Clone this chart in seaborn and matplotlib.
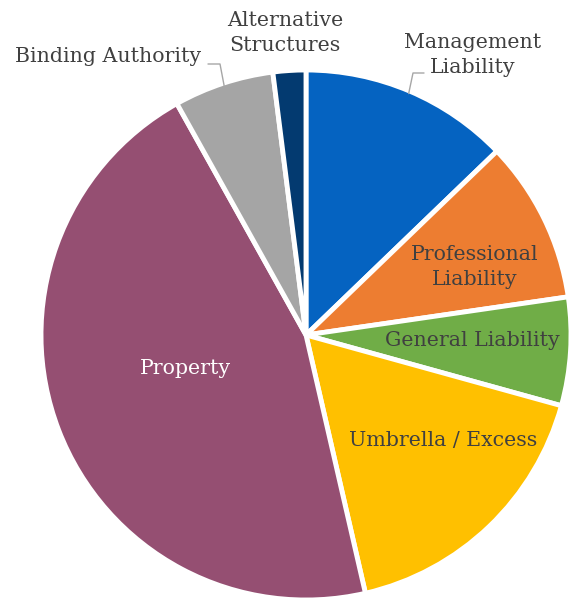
import numpy as np
import matplotlib
matplotlib.use("Agg")
import matplotlib.pyplot as plt
import seaborn as sns

# Share of premium by line of business
segments = ["Management Liability", "Professional Liability", "General Liability",
            "Umbrella / Excess", "Property", "Binding Authority", "Alternative Structures"]
shares = [12.8, 9.9, 6.6, 17.1, 45.5, 6.1, 2.0]
label_text = ["Management\nLiability", "Professional\nLiability", "General Liability",
              "Umbrella / Excess", "Property", "Binding Authority", "Alternative\nStructures"]
colors = ["#0563C1", "#ED7D31", "#70AD47", "#FFC000", "#954F72", "#A5A5A5", "#033A70"]

sns.set_theme(style="white")
plt.rcParams["font.family"] = ["DejaVu Serif"]

fig = plt.figure(figsize=(5.70, 5.98), dpi=100)
R = 265
cx, cy = 306, 335
W, H = 570, 598
ax = fig.add_axes([(cx - R) / W, (H - cy - R) / H, 2 * R / W, 2 * R / H])

wedges, _ = ax.pie(shares, colors=colors, startangle=90, counterclock=False,
                   wedgeprops=dict(edgecolor="white", linewidth=3.5))
ax.set_xlim(-1, 1)
ax.set_ylim(-1, 1)
ax.set_aspect("equal")
ax.axis("off")

txt = "#404040"
fs = 14.8
ls = 1.38

def px(x, y):
    return ((x - cx) / R, (cy - y) / R)

# labels placed inside the wedges
inside = {
    1: (475, 267, txt),
    2: (472, 341, txt),
    3: (443, 441, txt),
    4: (185, 368, "white"),
}
for i, (x, y, c) in inside.items():
    ax.text(*px(x, y), label_text[i], ha="center", va="center", color=c,
            fontsize=fs, linespacing=ls, clip_on=False)

# labels outside the pie, with leader lines to their wedge
outside = {
    0: ((473, 55), [(413, 73), (424, 73)]),
    5: ((108, 57), [(220, 64), (208, 64)]),
    6: ((285, 33), None),
}
for i, (pos, elbow) in outside.items():
    ax.text(*px(*pos), label_text[i], ha="center", va="center", color=txt,
            fontsize=fs, linespacing=ls, clip_on=False)
    if elbow:
        w = wedges[i]
        mid = np.deg2rad((w.theta1 + w.theta2) / 2)
        pts = [(np.cos(mid) * 0.99, np.sin(mid) * 0.99)] + [px(*p) for p in elbow]
        xs, ys = zip(*pts)
        ax.plot(xs, ys, color="#A6A6A6", lw=1, clip_on=False)

fig.savefig("out.png", dpi=100)
